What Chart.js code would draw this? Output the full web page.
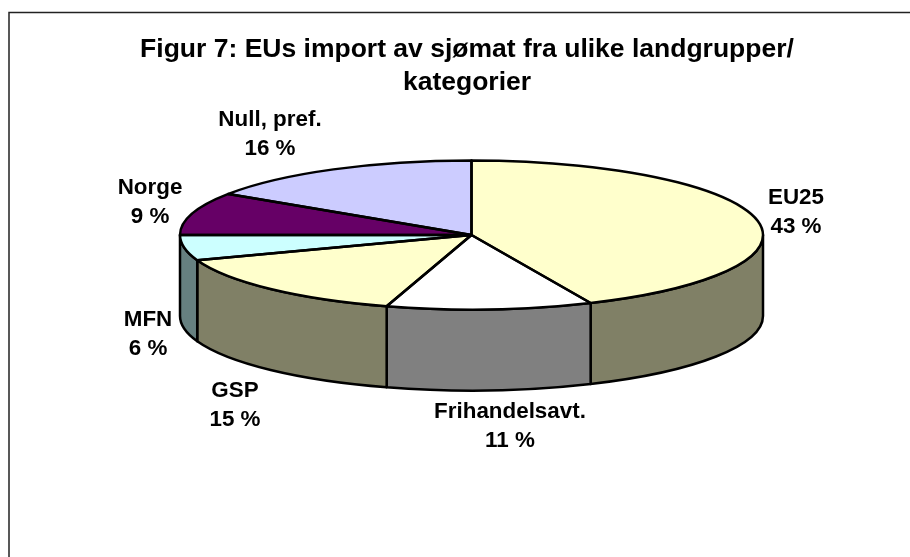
<!DOCTYPE html>
<html>
<head>
<meta charset="utf-8">
<style>
    html, body { margin: 0; padding: 0; background: #fff; overflow: hidden; }
    canvas { display: block; }
</style>
<script src="https://cdn.jsdelivr.net/npm/chart.js@4"></script>
</head>
<body>
<canvas id="pie" width="910" height="557"></canvas>
<script>
const titleLines = ["Figur 7: EUs import av sjømat fra ulike landgrupper/", "kategorier"]
const categories = ["EU25", "Frihandelsavt.", "GSP", "MFN", "Norge", "Null, pref."]
// read from the slice edges, the labels show these rounded
const shares = [43.3, 11.4, 14.8, 5.5, 9.3, 15.7]
const topColors = ["#FFFFCC", "#FFFFFF", "#FFFFCC", "#CCFFFF", "#660066", "#CCCCFF"]
const sideColors = ["#808066", "#808080", "#808066", "#668080", "#330033", "#666680"]
// centre of each data label, first line
const labelSpots = [[796, 197.5], [510, 411.5], [235, 390.5], [148, 319.5], [150, 187.5], [270, 119.5]]

// the tilted disc on the page
const discX = 471.5
const discY = 235
const discRx = 291.5
const discRy = 74.5
const discDepth = 81

function slices(chart) {
    return chart.getDatasetMeta(0).data
}

// sides go under the library's slices, the frame too
const sidesPlugin = {
    id: "sides",
    beforeDatasetsDraw(chart) {
        const ctx = chart.ctx
        ctx.save()
        ctx.strokeStyle = "#222"
        ctx.lineWidth = 1.5
        ctx.beginPath()
        ctx.moveTo(9, 560)
        ctx.lineTo(9, 12.5)
        ctx.lineTo(915, 12.5)
        ctx.stroke()

        ctx.lineWidth = 2.5
        ctx.strokeStyle = "#000"
        ctx.lineJoin = "round"
        slices(chart).forEach((arc, i) => {
            const from = Math.max(arc.startAngle, 0)
            const to = Math.min(arc.endAngle, Math.PI)
            if (to <= from) return
            ctx.beginPath()
            ctx.ellipse(discX, discY, discRx, discRy, 0, from, to)
            ctx.ellipse(discX, discY + discDepth, discRx, discRy, 0, to, from, true)
            ctx.closePath()
            ctx.fillStyle = sideColors[i]
            ctx.fill()
            ctx.stroke()
        })
        ctx.restore()

        // squash the round pie into the ellipse
        const first = slices(chart)[0]
        ctx.save()
        ctx.translate(discX, discY)
        ctx.scale(discRx / first.outerRadius, discRy / first.outerRadius)
        ctx.translate(-first.x, -first.y)
    },
    afterDatasetsDraw(chart) {
        const ctx = chart.ctx
        ctx.restore()

        // outlines here so the line width is not squashed as well
        ctx.save()
        ctx.lineWidth = 2.5
        ctx.strokeStyle = "#000"
        ctx.lineJoin = "round"
        slices(chart).forEach(arc => {
            ctx.beginPath()
            ctx.moveTo(discX, discY)
            ctx.ellipse(discX, discY, discRx, discRy, 0, arc.startAngle, arc.endAngle)
            ctx.closePath()
            ctx.stroke()
        })

        ctx.fillStyle = "#000"
        ctx.font = "bold 22.4px 'Liberation Sans', Arial, sans-serif"
        ctx.textAlign = "center"
        ctx.textBaseline = "middle"
        categories.forEach((name, i) => {
            const spot = labelSpots[i]
            ctx.fillText(name, spot[0], spot[1])
            ctx.fillText(Math.round(shares[i]) + " %", spot[0], spot[1] + 29.5)
        })
        ctx.restore()
    }
}

new Chart(document.getElementById("pie"), {
    type: "pie",
    data: {
        labels: categories,
        datasets: [{
            data: shares,
            backgroundColor: topColors,
            borderWidth: 0
        }]
    },
    options: {
        responsive: false,
        animation: false,
        layout: { padding: { left: 24 } },
        plugins: {
            legend: { display: false },
            tooltip: { enabled: false },
            title: {
                display: true,
                text: titleLines,
                color: "#000",
                font: { family: "'Liberation Sans', Arial, sans-serif", size: 26.5, weight: "bold", lineHeight: 1.245 },
                padding: { top: 33, bottom: 10 }
            }
        }
    },
    plugins: [sidesPlugin]
})
</script>
</body>
</html>
